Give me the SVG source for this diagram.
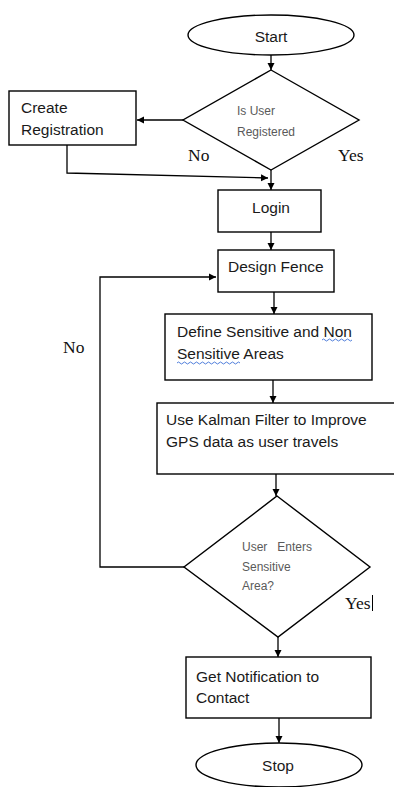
<svg xmlns="http://www.w3.org/2000/svg" width="394" height="787" viewBox="0 0 394 787">
<style>
.shape{fill:#fff;stroke:#000;stroke-width:1.4}
.line{fill:none;stroke:#000;stroke-width:1.3}
.t{font-family:"Liberation Sans",Arial,sans-serif;font-size:15.5px;fill:#1a1a1a}
.d{font-family:"Liberation Sans",Arial,sans-serif;font-size:12px;fill:#5a5a5a}
.s{font-family:"Liberation Serif","Times New Roman",serif;font-size:17.5px;fill:#111}
.wave{fill:none;stroke:#3b6fd6;stroke-width:0.9}
</style>
<defs>
<marker id="ah" markerWidth="8" markerHeight="8" refX="7" refY="4" orient="auto" markerUnits="userSpaceOnUse">
<path d="M0,0.5 L7,4 L0,7.5 Z" fill="#000"/>
</marker>
</defs>
<rect width="394" height="787" fill="#fff"/>
<g id="connectors">
<line class="line" x1="271" y1="55" x2="271" y2="70" marker-end="url(#ah)"/>
<line class="line" x1="183" y1="120" x2="137" y2="120" marker-end="url(#ah)"/>
<polyline class="line" points="67,145 67,173 268,178" marker-end="url(#ah)"/>
<line class="line" x1="271" y1="170" x2="271" y2="190" marker-end="url(#ah)"/>
<line class="line" x1="271" y1="232" x2="271" y2="250" marker-end="url(#ah)"/>
<line class="line" x1="274" y1="292" x2="274" y2="314" marker-end="url(#ah)"/>
<line class="line" x1="273" y1="380" x2="273" y2="403" marker-end="url(#ah)"/>
<line class="line" x1="276" y1="474" x2="276" y2="496" marker-end="url(#ah)"/>
<polyline class="line" points="184,567 100,567 100,277 216,277" marker-end="url(#ah)"/>
<line class="line" x1="278" y1="637" x2="278" y2="657" marker-end="url(#ah)"/>
<line class="line" x1="279" y1="718" x2="279" y2="743" marker-end="url(#ah)"/>
<text class="s" x="63" y="353">No</text>
</g>
<g id="start">
<ellipse class="shape" cx="271" cy="35" rx="83" ry="20"/>
<text class="t" x="271" y="42" text-anchor="middle">Start</text>
</g>
<g id="registered">
<polygon class="shape" points="271,70 359,120 271,170 183,120"/>
<text class="d" x="237" y="115">Is User</text>
<text class="d" x="237" y="136">Registered</text>
<text class="s" x="188" y="161">No</text>
<text class="s" x="338" y="161">Yes</text>
</g>
<g id="create">
<rect class="shape" x="9" y="91" width="127" height="54"/>
<text class="t" x="21" y="113">Create</text>
<text class="t" x="21" y="135">Registration</text>
</g>
<g id="login">
<rect class="shape" x="218" y="190" width="103" height="42"/>
<text class="t" x="271" y="213" text-anchor="middle">Login</text>
</g>
<g id="design">
<rect class="shape" x="218" y="250" width="116" height="42"/>
<text class="t" x="228" y="272">Design Fence</text>
</g>
<g id="define">
<rect class="shape" x="165" y="314" width="207" height="66"/>
<text class="t" x="177" y="337">Define Sensitive and Non</text>
<text class="t" x="177" y="359">Sensitive Areas</text>
<path class="wave" d="M322,340 q1.5,-2 3,0 t3,0 t3,0 t3,0 t3,0 t3,0 t3,0 t3,0 t3,0 t3,0"/>
<path class="wave" d="M177,363 q1.5,-2 3,0 t3,0 t3,0 t3,0 t3,0 t3,0 t3,0 t3,0 t3,0 t3,0 t3,0 t3,0 t3,0 t3,0 t3,0 t3,0 t3,0 t3,0 t3,0 t3,0 t3,0"/>
</g>
<g id="kalman">
<rect class="shape" x="157" y="403" width="240" height="71"/>
<text class="t" x="166" y="425">Use Kalman Filter to Improve</text>
<text class="t" x="166" y="447">GPS data as user travels</text>
</g>
<g id="sensitive">
<polygon class="shape" points="277,496 370,567 278,637 184,567"/>
<text class="d" x="242" y="551" xml:space="preserve">User   Enters</text>
<text class="d" x="242" y="571">Sensitive</text>
<text class="d" x="242" y="590">Area?</text>
<text class="s" x="345" y="609">Yes</text>
<line x1="372.5" y1="595" x2="372.5" y2="611" stroke="#000" stroke-width="1"/>
</g>
<g id="notify">
<rect class="shape" x="186" y="657" width="185" height="61"/>
<text class="t" x="196" y="682">Get Notification to</text>
<text class="t" x="196" y="703">Contact</text>
</g>
<g id="stop">
<ellipse class="shape" cx="279" cy="765" rx="83" ry="22"/>
<text class="t" x="278" y="771" text-anchor="middle">Stop</text>
</g>
</svg>
